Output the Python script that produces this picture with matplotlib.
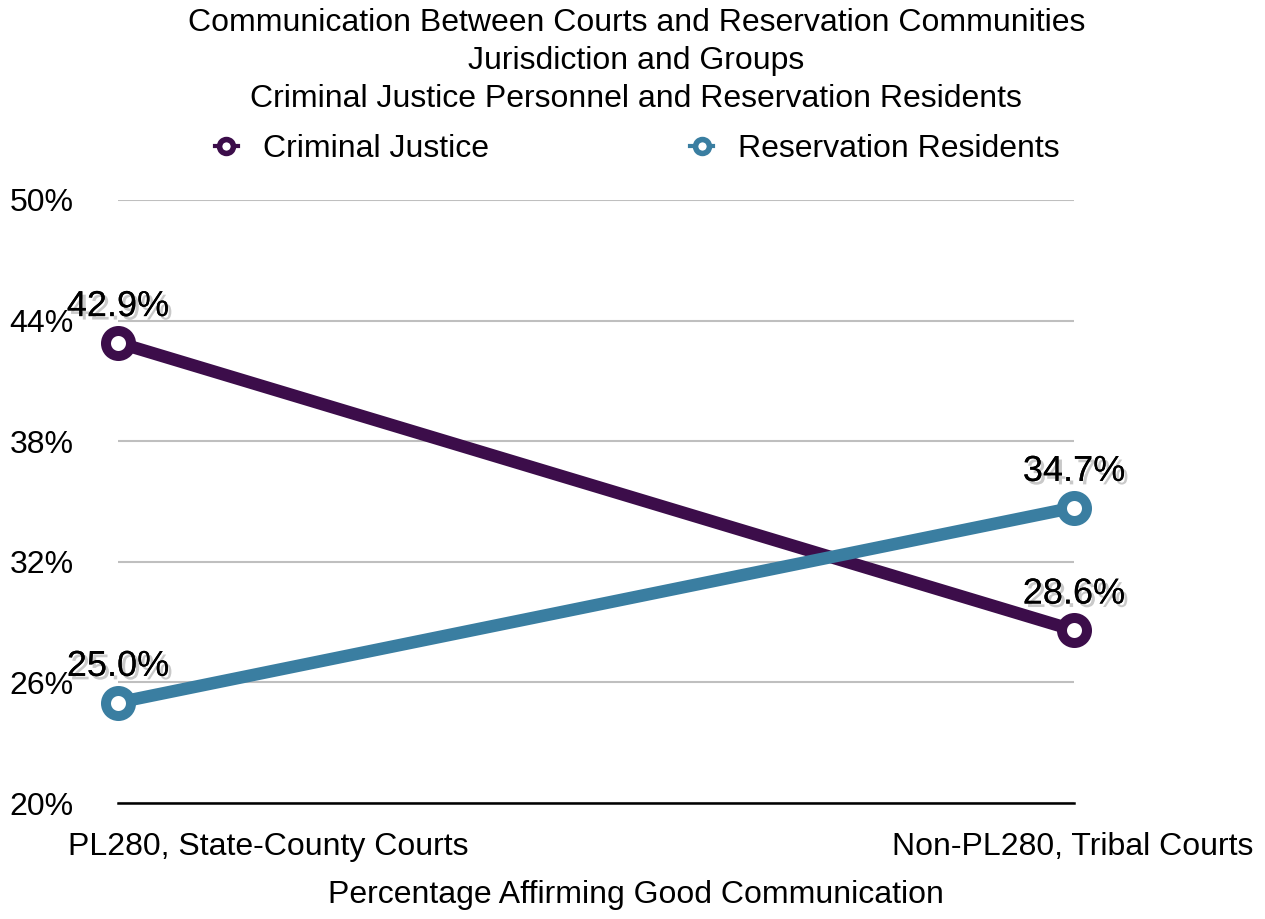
import matplotlib
matplotlib.use("Agg")
import matplotlib.pyplot as plt
import matplotlib.patheffects as pe
from matplotlib.lines import Line2D

plt.rcParams["font.family"] = ["Liberation Sans", "DejaVu Sans"]

title_lines = [
    "Communication Between Courts and Reservation Communities",
    "Jurisdiction and Groups",
    "Criminal Justice Personnel and Reservation Residents",
]
categories = ["PL280, State-County Courts", "Non-PL280, Tribal Courts"]
series_names = ["Criminal Justice", "Reservation Residents"]
criminal_justice = [42.9, 28.6]
reservation_residents = [25.0, 34.7]
y_ticks = [20, 26, 32, 38, 44, 50]
x_label = "Percentage Affirming Good Communication"

colors = ["#3c0d4a", "#3a7ea1"]
fs = 23

fig = plt.figure(figsize=(12.65, 9.19), dpi=100)
ax = fig.add_axes([0.0933, 0.1262, 0.849 - 0.0933, 0.7824 - 0.1262])

x = list(range(len(categories)))
shadow = [pe.withSimplePatchShadow(offset=(2.5, -2.5), shadow_rgbFace="#888888", alpha=0.45),
          pe.Normal()]

handles = []
for vals, name, c in zip([criminal_justice, reservation_residents], series_names, colors):
    ax.plot(x, vals, color=c, lw=9, marker="o", ms=18, mew=7.2,
            mfc="white", mec=c, zorder=3, clip_on=False)
    for xi, v in zip(x, vals):
        ax.annotate(f"{v:.1f}%", (xi, v), xytext=(0, 26), textcoords="offset points",
                    ha="center", va="center", fontsize=26, color="black",
                    path_effects=shadow, zorder=4)
    handles.append(Line2D([], [], color=c, lw=3, marker="o", ms=10, mew=4,
                          mfc="white", mec=c))

ax.set_xlim(0, 1)
ax.set_ylim(20, 50)
ax.set_yticks(y_ticks)
ax.set_yticklabels([f"{t}%" for t in y_ticks], fontsize=fs)
ax.tick_params(axis="x", length=0, labelbottom=False)
ax.yaxis.grid(True, color="#bfbfbf", lw=1.5)
ax.set_axisbelow(True)
for s in ["top", "right", "left"]:
    ax.spines[s].set_visible(False)
ax.spines["bottom"].set_color("black")
ax.spines["bottom"].set_linewidth(1.8)
for lab in ax.get_yticklabels():
    lab.set_horizontalalignment("left")
ax.tick_params(axis="y", length=0, pad=78)

# category labels
ax.annotate(categories[0], (0, 0), xycoords=("data", "axes fraction"),
            xytext=(-36, -32), textcoords="offset points", ha="left", va="center",
            fontsize=fs)
ax.annotate(categories[1], (1, 0), xycoords=("data", "axes fraction"),
            xytext=(129, -32), textcoords="offset points", ha="right", va="center",
            fontsize=fs)
fig.text(0.503, 1 - 895 / 919, x_label, ha="center", va="center", fontsize=fs)

for i, line in enumerate(title_lines):
    fig.text(0.503, 1 - (23 + 38 * i) / 919, line, ha="center", va="center", fontsize=fs)

leg = fig.legend(handles, series_names, loc="center", bbox_to_anchor=(0.504, 1 - 149 / 919),
                 ncol=2, frameon=False, fontsize=fs, columnspacing=6.3,
                 handlelength=0.7, handletextpad=0.8)

fig.savefig("out.png", dpi=100)
